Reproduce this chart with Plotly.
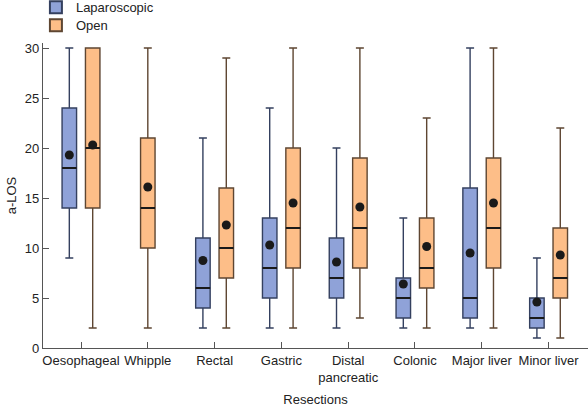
import plotly.graph_objects as go

categories = ["Oesophageal", "Whipple", "Rectal", "Gastric", "Distal<br>pancreatic",
              "Colonic", "Major liver", "Minor liver"]

# Laparoscopic (None = no data)
lap_low = [9, None, 2, 2, 2, 2, 2, 1]
lap_q1 = [14, None, 4, 5, 5, 3, 3, 2]
lap_med = [18, None, 6, 8, 7, 5, 5, 3]
lap_q3 = [24, None, 11, 13, 11, 7, 16, 5]
lap_high = [30, None, 21, 24, 20, 13, 30, 9]
lap_mean = [19.3, None, 8.75, 10.3, 8.6, 6.4, 9.5, 4.6]

# Open
open_low = [2, 2, 2, 2, 3, 2, 2, 1]
open_q1 = [14, 10, 7, 8, 8, 6, 8, 5]
open_med = [20, 14, 10, 12, 12, 8, 12, 7]
open_q3 = [30, 21, 16, 20, 19, 13, 19, 12]
open_high = [30, 30, 29, 30, 30, 23, 30, 22]
open_mean = [20.3, 16.1, 12.3, 14.5, 14.1, 10.15, 14.5, 9.3]

OFFSET = 0.175
BOXW = 0.217

idx = list(range(len(categories)))
lap_idx = [i for i in idx if lap_med[i] is not None]
both = set(lap_idx)
lap_x = [i - OFFSET for i in lap_idx]
open_x = [i + OFFSET if i in both else i for i in idx]

def pick(arr, ids):
    return [arr[i] for i in ids]

LAP_FILL = "#8FA2D8"
LAP_LINE = "#34405F"
OPEN_FILL = "#FDBE88"
OPEN_LINE = "#5E4632"

fig = go.Figure()
fig.add_trace(go.Box(
    name="Laparoscopic", x=lap_x,
    lowerfence=pick(lap_low, lap_idx), q1=pick(lap_q1, lap_idx),
    median=pick(lap_med, lap_idx), q3=pick(lap_q3, lap_idx),
    upperfence=pick(lap_high, lap_idx),
    width=BOXW, whiskerwidth=0.55,
    fillcolor=LAP_FILL, line=dict(color=LAP_LINE, width=1.4),
    boxpoints=False, hoverinfo="skip", showlegend=False,
))
fig.add_trace(go.Box(
    name="Open", x=open_x,
    lowerfence=open_low, q1=open_q1, median=open_med, q3=open_q3,
    upperfence=open_high,
    width=BOXW, whiskerwidth=0.55,
    fillcolor=OPEN_FILL, line=dict(color=OPEN_LINE, width=1.4),
    boxpoints=False, hoverinfo="skip", showlegend=False,
))
# bold black median bars (zero-height boxes at the medians)
all_x = lap_x + open_x
all_med = pick(lap_med, lap_idx) + open_med
fig.add_trace(go.Box(
    x=all_x, lowerfence=all_med, q1=all_med, median=all_med, q3=all_med,
    upperfence=all_med, width=BOXW, whiskerwidth=0,
    fillcolor="rgba(0,0,0,0)", line=dict(color="#1a1a1a", width=2),
    boxpoints=False, hoverinfo="skip", showlegend=False,
))
fig.add_trace(go.Scatter(
    x=all_x,
    y=pick(lap_mean, lap_idx) + open_mean,
    mode="markers", marker=dict(color="#1a1a1a", size=9),
    showlegend=False, hoverinfo="skip",
))
# legend swatches
for name, fill, line, lg in [("Laparoscopic", LAP_FILL, LAP_LINE, "legend"),
                             ("Open", OPEN_FILL, OPEN_LINE, "legend2")]:
    fig.add_trace(go.Scatter(
        x=[None], y=[None], mode="markers", name=name, legend=lg,
        marker=dict(symbol="square", size=10, color=fill, line=dict(color=line, width=1.2)),
    ))

FONT = "Liberation Sans, Arial, sans-serif"
leg_common = dict(xanchor="left", yanchor="top", font=dict(size=13),
                  itemsizing="constant", bgcolor="rgba(0,0,0,0)")
fig.update_layout(
    width=588, height=407,
    margin=dict(l=43, r=0, t=43, b=59, autoexpand=False),
    plot_bgcolor="white", paper_bgcolor="white",
    boxmode="overlay",
    font=dict(family=FONT, size=13, color="#222"),
    legend=dict(x=-0.013, y=1.166, **leg_common),
    legend2=dict(x=-0.013, y=1.107, **leg_common),
    xaxis=dict(
        range=[-0.569, 7.59], tickmode="array", tickvals=idx, ticktext=categories,
        ticks="inside", ticklen=6, tickcolor="#555", showline=True, linecolor="#555",
        linewidth=1.2, showgrid=False, zeroline=False, automargin=False,
        title=dict(text="Resections", font=dict(size=13), standoff=11),
    ),
    yaxis=dict(
        range=[0, 30.5], tickvals=[0, 5, 10, 15, 20, 25, 30],
        ticks="inside", ticklen=6, tickcolor="#555", showline=True, linecolor="#555",
        linewidth=1.2, showgrid=False, zeroline=False, automargin=False,
        title=dict(text="a-LOS", font=dict(size=13), standoff=5),
    ),
)

fig.write_html("out.html", config={"displayModeBar": False},
               post_script="document.body.style.margin='0';document.body.style.overflow='hidden';")
